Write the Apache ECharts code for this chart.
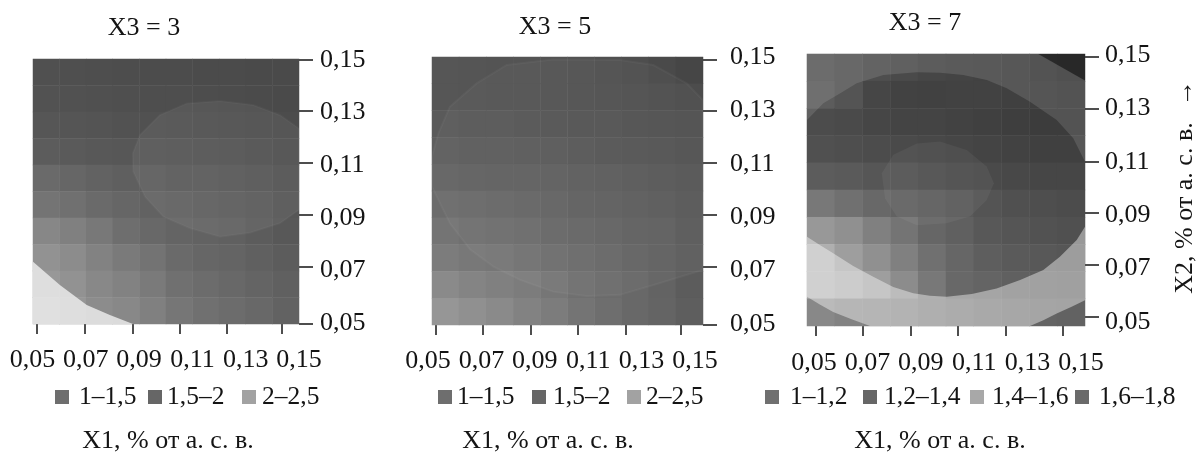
<!DOCTYPE html>
<html><head><meta charset="utf-8">
<style>html,body{margin:0;padding:0;background:#fff}#c{width:1196px;height:452px;filter:blur(0.5px)}</style>
<script src="https://cdn.jsdelivr.net/npm/echarts@6/dist/echarts.min.js"></script>
</head><body><div id="c"></div>
<script>
const tickLabels = [0.05,0.07,0.09,0.11,0.13,0.15];
const cells = ['1','2','3','4','5','6','7','8','9','10'];

// Gray level of every cell, rows from top to bottom
const shadeX3_3 = [
 [80,79,78,77,76,76,75,75,74,74],
 [82,81,80,79,78,78,77,76,75,74],
 [86,85,84,82,81,80,79,78,77,76],
 [92,90,88,87,85,84,83,82,80,78],
 [106,102,98,95,93,90,90,88,85,82],
 [116,112,106,102,98,96,94,92,90,86],
 [135,128,120,110,104,100,98,96,92,88],
 [146,140,130,122,115,106,102,100,96,92],
 [152,146,136,130,122,112,108,104,100,96],
 [158,150,140,136,128,118,112,108,104,98]];
const shadeX3_5 = [
 [86,85,84,84,83,82,80,78,74,70],
 [86,85,84,84,83,82,81,80,78,76],
 [90,88,88,86,85,84,84,82,81,80],
 [94,92,92,91,90,88,86,85,84,82],
 [100,98,97,96,95,93,92,90,88,86],
 [108,106,104,102,100,97,95,93,91,88],
 [116,112,110,108,104,102,100,97,95,90],
 [124,120,118,114,110,107,104,100,97,92],
 [138,132,128,124,118,112,108,104,99,92],
 [150,144,138,130,124,116,110,104,100,94]];
const shadeX3_7 = [
 [88,84,78,74,70,68,66,64,60,56],
 [92,84,70,66,65,66,66,64,62,60],
 [76,74,70,68,68,66,64,62,60,60],
 [80,78,76,74,72,70,68,66,64,64],
 [92,90,86,84,80,76,74,72,70,70],
 [120,112,104,98,94,90,84,80,78,76],
 [152,144,128,116,102,96,88,85,82,80],
 [175,158,144,128,112,102,94,90,88,86],
 [175,168,158,140,120,104,100,96,94,92],
 [136,130,128,125,118,112,108,104,100,98]];

// Contour bands, in axis units
const cornerX3_3 = [[.05,.0733],[.0601,.0644],[.0702,.0568],[.0789,.0530],[.0876,.0496],[.05,.0496]];
const ovalX3_3 = [[.15,.1240],[.1428,.1291],[.1328,.1329],[.1203,.1344],[.1078,.1335],[.0977,.1291],[.0902,.1215],[.0875,.1145],[.0877,.1075],[.0921,.0980],[.0990,.0904],[.1090,.0860],[.1203,.0828],[.1316,.0843],[.1428,.0879],[.15,.0930]];
const ovalX3_5 = [[.1529,.1339],[.1469,.1401],[.1344,.1470],[.1219,.1489],[.0969,.1491],[.0795,.1470],[.0682,.1401],[.0582,.1314],[.0539,.1214],[.0515,.1127],[.0515,.1014],[.0533,.0977],[.0582,.0877],[.0657,.0780],[.0745,.0715],[.0845,.0665],[.0969,.0621],[.1094,.0605],[.1219,.0609],[.1344,.0646],[.1529,.0702]];
const topBandX3_7 = [[.0474,.1496],[.1515,.1496],[.1515,.1091],[.1471,.1179],[.1409,.1248],[.1309,.1317],[.1222,.1367],[.1147,.1398],[.1059,.1417],[.0972,.1426],[.0885,.1427],[.0760,.1417],[.0660,.1386],[.0597,.1348],[.0535,.1311],[.0474,.1248]];
const cornerX3_7 = [[.1340,.1496],[.1515,.1496],[.1515,.1396],[.1434,.1442]];
const coreX3_7 = [[.0754,.1048],[.0797,.1117],[.0885,.1160],[.0972,.1167],[.1072,.1135],[.1147,.1073],[.1174,.1010],[.1147,.0947],[.1084,.0885],[.0997,.0860],[.0885,.0853],[.0810,.0885],[.0766,.0954]];
const lowBandX3_7 = [[.0474,.0809],[.0522,.0778],[.0572,.0747],[.0647,.0699],[.0722,.0659],[.0797,.0621],[.0872,.0597],[.0934,.0588],[.0997,.0584],[.1091,.0594],[.1184,.0615],[.1272,.0647],[.1359,.0684],[.1421,.0734],[.1484,.0797],[.1515,.0847],[.1515,.0571],[.1465,.0546],[.1409,.0521],[.1359,.0496],[.1309,.0474],[.0710,.0474],[.0641,.0499],[.0572,.0527],[.0522,.0555],[.0474,.0584]];

// Tick mark values as drawn (they sit off the printed labels)
const xTicksX3_3 = [.0515,.0695,.0876,.1053,.1229,.1436];
const yTicksX3_3 = [.1502,.1307,.1109,.0911,.0714,.0496];
const xTicksX3_5 = [.0530,.0706,.0886,.1062,.1242,.1448];
const yTicksX3_5 = [.1489,.1298,.1103,.0908,.0713,.0496];
const xTicksX3_7 = [.0507,.0684,.0864,.1040,.1220,.1430];
const yTicksX3_7 = [.1485,.1289,.1090,.0898,.0703,.0508];

const legendX3_3 = ['1–1,5','1,5–2','2–2,5'];
const legendX3_5 = ['1–1,5','1,5–2','2–2,5'];
const legendX3_7 = ['1–1,2','1,2–1,4','1,4–1,6','1,6–1,8'];
const legendColorsX3_3 = ['#6e6e6e','#666666','#a2a2a2'];
const legendColorsX3_5 = ['#6e6e6e','#666666','#a2a2a2'];
const legendColorsX3_7 = ['#707070','#666666','#a8a8a8','#6a6a6a'];

const FONT = '"Liberation Serif","Times New Roman",serif';
const INK = '#141414';
const panels = [
 {title:'X3 = 3',tc:[144,28],nc:[168,441],box:[33,59,266,265],xr:[.05,.15],yr:[.0496,.1504],
  lab:[32.5,60,266.5,263],xm:24,ym:21,
  shade:shadeX3_3,xT:xTicksX3_3,yT:yTicksX3_3,
  polys:[[ovalX3_3,'rgba(255,255,255,.06)','rgba(255,255,255,.03)'],[cornerX3_3,'rgba(240,240,240,.8)',null]],
  leg:legendX3_3,legC:legendColorsX3_3,legX:[55,148,242],legGap:[10,5,6]},
 {title:'X3 = 5',tc:[555,27],nc:[548,441],box:[432,57,271,268],xr:[.0515,.153],yr:[.0496,.15],
  lab:[428,57,267,267],xm:24,ym:35,
  shade:shadeX3_5,xT:xTicksX3_5,yT:yTicksX3_5,
  polys:[[ovalX3_5,'rgba(255,255,255,.03)','rgba(255,255,255,.04)']],
  leg:legendX3_5,legC:legendColorsX3_5,legX:[438,532,627],legGap:[5,7,5]},
 {title:'X3 = 7',tc:[925,23],nc:[940,441],box:[807,54,278,272],xr:[.0474,.1515],yr:[.0474,.1496],
  lab:[814,55,267,267],xm:28,ym:24,
  shade:shadeX3_7,xT:xTicksX3_7,yT:yTicksX3_7,
  polys:[[topBandX3_7,'rgba(255,255,255,.12)',null],[cornerX3_7,'rgba(0,0,0,.5)',null],[coreX3_7,'rgba(255,255,255,.05)',null],[lowBandX3_7,'rgba(255,255,255,.42)',null]],
  leg:legendX3_7,legC:legendColorsX3_7,legX:[765,863,970,1075],legGap:[11,7,8,10]}
];

const grid=[],xAxis=[],yAxis=[],series=[],legend=[],graphic=[],heatIdx=[];
const fmt = v => v.toFixed(2).replace('.',',');
const labelStyle = {color:INK,fontFamily:FONT,fontSize:26,hideOverlap:false};
panels.forEach((p,i)=>{
  grid.push({left:p.box[0],top:p.box[1],width:p.box[2],height:p.box[3]});
  xAxis.push({type:'value',gridIndex:i,position:'bottom',min:p.xr[0],max:p.xr[1],
    axisLine:{show:false},splitLine:{show:false},axisLabel:{show:false},
    axisTick:{show:true,length:10,customValues:p.xT,lineStyle:{color:INK,width:1.5}}});
  xAxis.push({type:'category',gridIndex:i,data:cells,show:false});
  yAxis.push({type:'value',gridIndex:i,position:'right',min:p.yr[0],max:p.yr[1],
    axisLine:{show:false},splitLine:{show:false},axisLabel:{show:false},
    axisTick:{show:true,length:14,customValues:p.yT,lineStyle:{color:INK,width:1.5}}});
  yAxis.push({type:'category',gridIndex:i,data:cells,show:false});
  const hd=[];
  p.shade.forEach((row,r)=>row.forEach((v,c)=>hd.push([c,9-r,v])));
  heatIdx.push(series.length);
  series.push({type:'heatmap',xAxisIndex:2*i+1,yAxisIndex:2*i+1,data:hd,z:1,silent:true,progressive:0,animation:false,emphasis:{disabled:true}});
  p.polys.forEach((poly,k)=>{
    series.push({type:'custom',xAxisIndex:2*i,yAxisIndex:2*i,z:2+k,silent:true,clip:true,data:poly[0],animation:false,
      encode:{x:0,y:1},
      renderItem:(params,api)=>{
        if(params.dataIndex!==0) return null;
        return {type:'polygon',shape:{points:poly[0].map(q=>api.coord(q))},
          style:{fill:poly[1],stroke:poly[2]||'none',lineWidth:poly[2]?2:0}};
      }});
  });
  p.leg.forEach((name,k)=>{
    series.push({type:'scatter',name,xAxisIndex:2*i,yAxisIndex:2*i,data:[],itemStyle:{color:p.legC[k],opacity:1}});
    legend.push({data:[name],left:p.legX[k],top:382,icon:'rect',itemWidth:14,itemHeight:14,selectedMode:false,
      padding:0,textStyle:{color:INK,fontFamily:FONT,fontSize:25.5,lineHeight:30,padding:[0,0,0,Math.max(p.legGap[k]-5,0)]}});
  });
  graphic.push({type:'text',x:p.tc[0],y:p.tc[1],style:{text:p.title,font:'26px '+FONT,fill:INK,textAlign:'center',textVerticalAlign:'middle'}});
  graphic.push({type:'text',x:p.nc[0],y:p.nc[1],style:{text:'X1, % от а. с. в.',font:'26px '+FONT,fill:INK,textAlign:'center',textVerticalAlign:'middle'}});
});
// Printed scale labels use their own frames, offset from the plotted squares
panels.forEach((p,i)=>{
  const g=grid.length;
  grid.push({left:p.lab[0],top:p.lab[1],width:p.lab[2],height:p.lab[3]});
  xAxis.push({type:'value',gridIndex:g,position:'bottom',min:.05,max:.15,axisLine:{show:false},axisTick:{show:false},splitLine:{show:false},
    axisLabel:Object.assign({customValues:tickLabels,formatter:fmt,margin:p.xm},labelStyle)});
  yAxis.push({type:'value',gridIndex:g,position:'right',min:.05,max:.15,axisLine:{show:false},axisTick:{show:false},splitLine:{show:false},
    axisLabel:Object.assign({customValues:tickLabels,formatter:fmt,margin:p.ym},labelStyle)});
});
graphic.push({type:'text',x:1185,y:208,rotation:Math.PI/2,style:{text:'X2, % от а. с. в.',font:'26px '+FONT,fill:INK,textAlign:'center',textVerticalAlign:'middle'}});
graphic.push({type:'text',x:1185,y:93,rotation:Math.PI/2,style:{text:'→',font:'26px '+FONT,fill:INK,textAlign:'center',textVerticalAlign:'middle'}});

const chart=echarts.init(document.getElementById('c'),null,{renderer:'canvas'});
chart.setOption({animation:false,backgroundColor:'#fff',grid,xAxis,yAxis,series,legend,graphic,
  tooltip:{show:false},
  visualMap:{show:false,type:'continuous',min:0,max:255,seriesIndex:heatIdx,dimension:2,inRange:{color:['#000000','#ffffff']}}});
</script></body></html>
